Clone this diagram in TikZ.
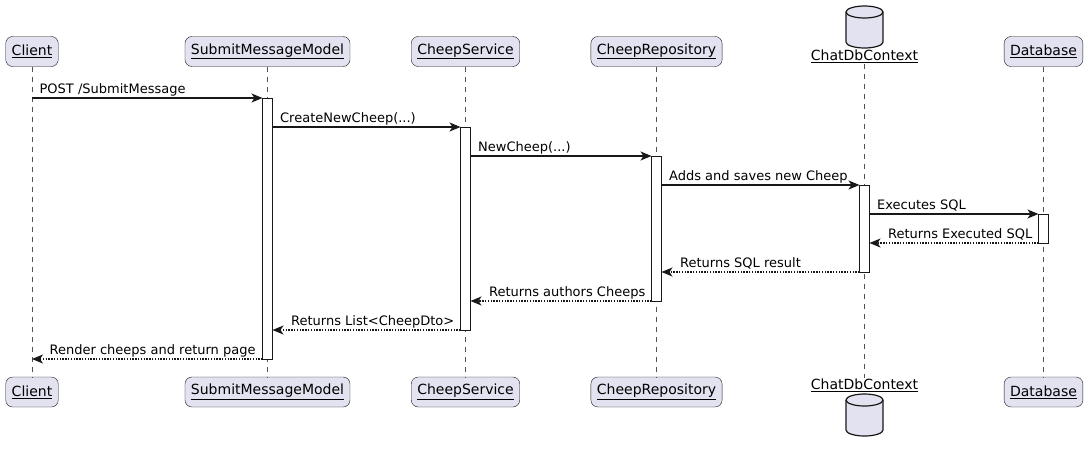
\documentclass[tikz,border=0pt]{standalone}
\usepackage{fontspec}
\setmainfont{DejaVu Sans}
\usetikzlibrary{arrows.meta,calc}
\definecolor{umlline}{HTML}{181818}
\definecolor{umlfill}{HTML}{E2E2F0}
\tikzset{
  actor/.style={draw=umlline, fill=umlfill, rounded corners=7pt, inner xsep=6pt,
    minimum height=30pt, font=\fontsize{14}{16}\selectfont},
  dbcyl/.style={draw=umlline, fill=umlfill, line width=1.2pt},
  dblabel/.style={font=\fontsize{14}{16}\selectfont, inner sep=1pt},
  life/.style={umlline!75, dash pattern=on 5pt off 5pt, line width=0.5pt},
  actbar/.style={draw=umlline, fill=white, line width=0.9pt},
  call/.style={umlline, line width=1.3pt, -{Stealth[length=11pt,width=9pt,inset=3pt]}},
  reply/.style={call, dash pattern=on 1.4pt off 1.4pt},
  msg/.style={anchor=base west, font=\fontsize{13}{15}\selectfont, inner sep=0pt, text=black},
}
\begin{document}
\begin{tikzpicture}[x=1pt, y=-1pt]
  \useasboundingbox (0,0) rectangle (1089,455);
  % participants, top and bottom
  \foreach \n/\x/\t in {cl/32/Client, smm/267.5/SubmitMessageModel, cs/465.5/CheepService,
      cr/656.5/CheepRepository, db/1043.5/Database} {
    \node[actor] (\n-top) at (\x,51.5) {\underline{\t}};
    \node[actor] (\n-bot) at (\x,392) {\underline{\t}};
  }
  % context drawn as a database
  \foreach \cy in {6,394} {
    \filldraw[dbcyl] (846,\cy+6) -- (846,\cy+36) arc[start angle=180, end angle=0, x radius=18.5, y radius=6]
      -- (883,\cy+6) arc[start angle=0, end angle=-180, x radius=18.5, y radius=6] -- cycle;
    \draw[dbcyl, fill=none] (846,\cy+6) arc[start angle=180, end angle=0, x radius=18.5, y radius=6];
  }
  \node[dblabel, anchor=north] (ctx-top) at (864.5,49) {\underline{ChatDbContext}};
  \node[dblabel, anchor=south] (ctx-bot) at (864.5,393) {\underline{ChatDbContext}};
  % lifelines
  \foreach \n in {cl,smm,cs,cr,ctx,db}
    \draw[life] (\n-top) -- (\n-bot);
  % activations: node / from / to
  \foreach \n/\a/\b in {smm/98/359, cs/127/330, cr/156/301, ctx/185/272, db/214/243}
    \draw[actbar] ($(\n-top.south |- 0,\a)+(-5,0)$) rectangle ($(\n-top.south |- 0,\b)+(5,0)$);
  % messages: from / offset / to / offset / y / style / label pos / label shift / text
  \foreach \f/\fo/\t/\to/\y/\s/\p/\lx/\lbl in {
      cl/0/smm/-5/98/call/0/7/{POST /SubmitMessage},
      smm/5/cs/-5/127/call/0/7/{CreateNewCheep(...)},
      cs/5/cr/-5/156/call/0/7/{NewCheep(...)},
      cr/5/ctx/-5/185/call/0/7/{Adds and saves new Cheep},
      ctx/5/db/-5/214/call/0/7/{Executes SQL},
      db/-5/ctx/5/243/reply/1/18/{Returns Executed SQL},
      ctx/-5/cr/5/272/reply/1/18/{Returns SQL result},
      cr/-5/cs/5/301/reply/1/18/{Returns authors Cheeps},
      cs/-5/smm/5/330/reply/1/18/{Returns List<CheepDto>},
      smm/-5/cl/0/359/reply/1/17/{Render cheeps and return page}} {
    \draw[\s] ($(\f-top.south |- 0,\y)+(\fo,0)$) -- ($(\t-top.south |- 0,\y)+(\to,0)$)
      node[msg, pos=\p, xshift=\lx pt, yshift=5pt] {\lbl};
  }
\end{tikzpicture}
\end{document}
